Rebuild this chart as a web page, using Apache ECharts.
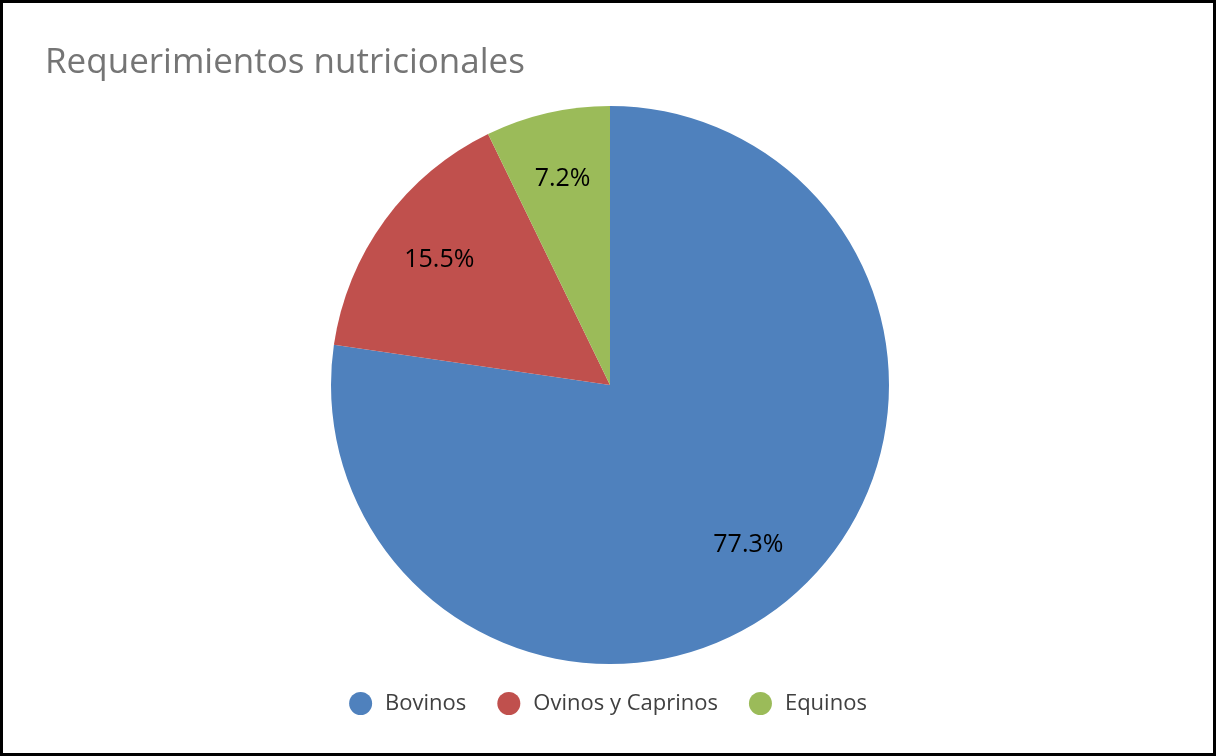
<!DOCTYPE html>
<html>
<head>
<meta charset="utf-8">
<script src="https://cdn.jsdelivr.net/npm/echarts@6/dist/echarts.min.js"></script>
<style>
  html, body { margin: 0; padding: 0; background: #fff; }
  #frame { width: 1216px; height: 756px; box-sizing: border-box; border: 3px solid #000; }
  #chart { width: 1210px; height: 750px; }
</style>
</head>
<body>
<div id="frame"><div id="chart"></div></div>
<script>
// Share of nutritional requirements by livestock group (%)
const categories = ['Bovinos', 'Ovinos y Caprinos', 'Equinos'];
const shares = [77.3, 15.5, 7.2];
const colors = ['#4F81BD', '#C0504D', '#9BBB59'];

const FONT = '"Open Sans", "Noto Sans", sans-serif';
const data = categories.map((name, i) => ({ name, value: shares[i] }));

const chart = echarts.init(document.getElementById('chart'), null, { renderer: 'canvas' });
chart.setOption({
  animation: false,
  color: colors,
  title: {
    text: 'Requerimientos nutricionales',
    left: 37,
    top: 38,
    textStyle: { fontFamily: FONT, fontSize: 35, fontWeight: 'normal', color: '#757575' }
  },
  legend: {
    data: categories,
    bottom: 33,
    left: 'center',
    icon: 'circle',
    itemWidth: 23,
    itemHeight: 23,
    itemGap: 31,
    textStyle: { fontFamily: FONT, fontSize: 22, color: '#404040', padding: [0, 0, 0, 8] }
  },
  series: [
    {
      type: 'pie',
      center: [607, 382],
      radius: [0, 279],
      startAngle: 90,
      clockwise: true,
      label: { show: false },
      labelLine: { show: false },
      itemStyle: { borderWidth: 0 },
      emphasis: { disabled: true },
      data: data
    },
    {
      // transparent ring that places the percentage labels at ~3/4 of the radius
      type: 'pie',
      center: [607, 382],
      radius: [138, 279],
      startAngle: 90,
      clockwise: true,
      silent: true,
      itemStyle: { color: 'rgba(0,0,0,0)', borderWidth: 0 },
      label: {
        show: true,
        position: 'inside',
        formatter: p => p.value.toFixed(1) + '%',
        fontFamily: FONT,
        fontSize: 25,
        color: '#000'
      },
      labelLine: { show: false },
      emphasis: { disabled: true },
      data: data
    }
  ]
});
</script>
</body>
</html>
